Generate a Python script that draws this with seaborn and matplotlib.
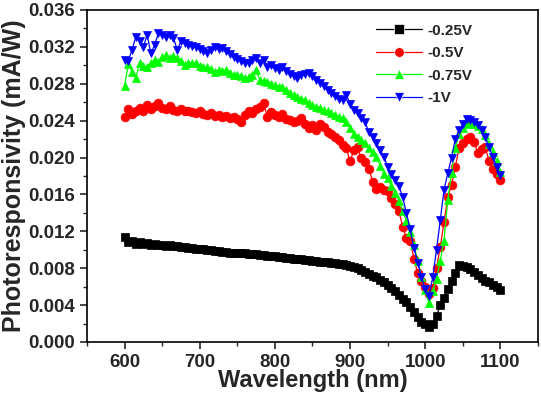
import pandas as pd
import seaborn as sns
import matplotlib
matplotlib.use("Agg")
import matplotlib.pyplot as plt
from matplotlib.ticker import MultipleLocator

wavelength = list(range(600, 1101, 5))

v025 = [0.0114, 0.0108, 0.0110, 0.0106, 0.0108, 0.0106, 0.0107, 0.0105, 0.0106, 0.0105,
        0.0105, 0.0104, 0.0105, 0.0104, 0.0104, 0.0103, 0.0103, 0.0102, 0.0102, 0.0101,
        0.0101, 0.0101, 0.0100, 0.0100, 0.0099, 0.0099, 0.0098, 0.0098, 0.0097, 0.0097,
        0.0097, 0.0096, 0.0096, 0.0095, 0.0095, 0.0095, 0.0094, 0.0094, 0.0093, 0.0093,
        0.0093, 0.0092, 0.0092, 0.0091, 0.0091, 0.0090, 0.0090, 0.0090, 0.0089, 0.0089,
        0.0088, 0.0088, 0.0087, 0.0087, 0.0087, 0.0086, 0.0086, 0.0085, 0.0085, 0.0084,
        0.0082, 0.0081, 0.0080, 0.0078, 0.0076, 0.0074, 0.0072, 0.0070, 0.0067, 0.0065,
        0.0062, 0.0059, 0.0055, 0.0051, 0.0047, 0.0043, 0.0038, 0.0033, 0.0027, 0.0022,
        0.0019, 0.0016, 0.0019, 0.0028, 0.0040, 0.0048, 0.0057, 0.0066, 0.0075, 0.0084,
        0.0082, 0.0081, 0.0079, 0.0076, 0.0073, 0.0069, 0.0066, 0.0065, 0.0062, 0.0060,
        0.0056]

v05 = [0.0244, 0.0253, 0.0247, 0.0251, 0.0254, 0.0250, 0.0257, 0.0253, 0.0256, 0.0259,
       0.0254, 0.0253, 0.0256, 0.0252, 0.0251, 0.0253, 0.0250, 0.0251, 0.0249, 0.0248,
       0.0250, 0.0247, 0.0246, 0.0248, 0.0245, 0.0246, 0.0244, 0.0245, 0.0243, 0.0244,
       0.0242, 0.0239, 0.0246, 0.0251, 0.0248, 0.0253, 0.0255, 0.0259, 0.0244, 0.0249,
       0.0246, 0.0244, 0.0247, 0.0242, 0.0241, 0.0238, 0.0240, 0.0243, 0.0236, 0.0232,
       0.0235, 0.0230, 0.0236, 0.0233, 0.0228, 0.0226, 0.0222, 0.0219, 0.0214, 0.0210,
       0.0196, 0.0208, 0.0211, 0.0199, 0.0195, 0.0188, 0.0174, 0.0166, 0.0168, 0.0165,
       0.0164, 0.0156, 0.0150, 0.0142, 0.0125, 0.0113, 0.0110, 0.0090, 0.0075, 0.0066,
       0.0060, 0.0052, 0.0058, 0.0080, 0.0103, 0.0130, 0.0157, 0.0170, 0.0190, 0.0210,
       0.0216, 0.0220, 0.0222, 0.0217, 0.0205, 0.0209, 0.0211, 0.0196, 0.0188, 0.0182,
       0.0176]

v075 = [0.0278, 0.0301, 0.0293, 0.0286, 0.0303, 0.0299, 0.0298, 0.0303, 0.0306, 0.0304,
        0.0309, 0.0311, 0.0308, 0.0310, 0.0308, 0.0305, 0.0300, 0.0302, 0.0303, 0.0302,
        0.0299, 0.0298, 0.0298, 0.0296, 0.0293, 0.0295, 0.0294, 0.0295, 0.0292, 0.0290,
        0.0290, 0.0288, 0.0286, 0.0287, 0.0289, 0.0295, 0.0284, 0.0283, 0.0282, 0.0280,
        0.0279, 0.0277, 0.0276, 0.0273, 0.0270, 0.0268, 0.0266, 0.0264, 0.0262, 0.0259,
        0.0257, 0.0255, 0.0254, 0.0252, 0.0250, 0.0248, 0.0246, 0.0244, 0.0243, 0.0238,
        0.0232, 0.0226, 0.0222, 0.0219, 0.0216, 0.0210, 0.0206, 0.0201, 0.0191, 0.0182,
        0.0178, 0.0169, 0.0162, 0.0153, 0.0142, 0.0131, 0.0119, 0.0105, 0.0088, 0.0070,
        0.0056, 0.0042, 0.0055, 0.0068, 0.0088, 0.0110, 0.0154, 0.0183, 0.0210, 0.0225,
        0.0232, 0.0236, 0.0237, 0.0236, 0.0234, 0.0231, 0.0224, 0.0215, 0.0206, 0.0196,
        0.0184]

v1 = [0.0306, 0.0305, 0.0317, 0.0331, 0.0326, 0.0320, 0.0333, 0.0313, 0.0322, 0.0335,
      0.0333, 0.0331, 0.0333, 0.0330, 0.0317, 0.0326, 0.0324, 0.0322, 0.0321, 0.0320,
      0.0318, 0.0316, 0.0313, 0.0317, 0.0320, 0.0318, 0.0319, 0.0316, 0.0312, 0.0309,
      0.0307, 0.0305, 0.0302, 0.0303, 0.0306, 0.0308, 0.0303, 0.0306, 0.0298, 0.0300,
      0.0297, 0.0295, 0.0298, 0.0294, 0.0291, 0.0288, 0.0286, 0.0289, 0.0291, 0.0292,
      0.0288, 0.0284, 0.0281, 0.0278, 0.0273, 0.0270, 0.0267, 0.0264, 0.0262, 0.0268,
      0.0258, 0.0252, 0.0248, 0.0243, 0.0238, 0.0228, 0.0222, 0.0216, 0.0208, 0.0201,
      0.0190, 0.0182, 0.0176, 0.0169, 0.0157, 0.0140, 0.0122, 0.0102, 0.0086, 0.0071,
      0.0057, 0.0050, 0.0070, 0.0100, 0.0132, 0.0165, 0.0183, 0.0200, 0.0220, 0.0230,
      0.0236, 0.0242, 0.0241, 0.0238, 0.0235, 0.0230, 0.0222, 0.0211, 0.0201, 0.0190,
      0.0181]

labels = ["-0.25V", "-0.5V", "-0.75V", "-1V"]
series = [v025, v05, v075, v1]
colors = {"-0.25V": "#000000", "-0.5V": "#ff0000", "-0.75V": "#00ff00", "-1V": "#0000ff"}
markers = {"-0.25V": "s", "-0.5V": "o", "-0.75V": "^", "-1V": "v"}

df = pd.concat([pd.DataFrame({"wl": wavelength, "resp": s, "bias": lab})
                for lab, s in zip(labels, series)], ignore_index=True)

sns.set_style("ticks")
plt.rcParams["font.family"] = ["Liberation Sans", "DejaVu Sans"]
plt.rcParams["font.weight"] = "bold"

fig = plt.figure(figsize=(5.41, 3.93), dpi=100)
ax = fig.add_axes([0.1608, 0.1298, 0.8336, 0.8448])

sns.lineplot(data=df, x="wl", y="resp", hue="bias", style="bias", hue_order=labels,
             style_order=labels, palette=colors, markers=markers, dashes=False,
             markersize=6.3, linewidth=0.9, markeredgewidth=0.5, ax=ax)

for ln in ax.lines:
    ln.set_markeredgecolor(ln.get_color())

ax.set_xlim(550, 1150)
ax.set_ylim(0, 0.036)
ax.xaxis.set_major_locator(MultipleLocator(100))
ax.xaxis.set_minor_locator(MultipleLocator(50))
ax.yaxis.set_major_locator(MultipleLocator(0.004))
ax.yaxis.set_minor_locator(MultipleLocator(0.002))
ax.yaxis.set_major_formatter(matplotlib.ticker.FormatStrFormatter("%.3f"))
ax.tick_params(which="major", direction="out", length=5, width=1.2, labelsize=13.5)
ax.tick_params(which="minor", direction="out", length=3, width=1.0)
for sp in ax.spines.values():
    sp.set_visible(True)
    sp.set_linewidth(1.2)
    sp.set_color("black")

ax.set_xlabel("Wavelength (nm)", fontsize=17, fontweight="bold", labelpad=-1)
ax.set_ylabel("Photoresponsivity (mA/W)", fontsize=18, fontweight="bold", labelpad=2)

old = ax.get_legend()
handles = old.legend_handles
for h in handles:
    h.set_markersize(7)
    h.set_linewidth(0.9)
texts = [t.get_text() for t in old.get_texts()]
ax.legend(handles, texts, loc="upper left", bbox_to_anchor=(0.61, 1.0), frameon=False,
          handlelength=3, handletextpad=0.4, labelspacing=0.55,
          prop={"weight": "bold", "size": 11})

fig.savefig("out.png", dpi=100)
